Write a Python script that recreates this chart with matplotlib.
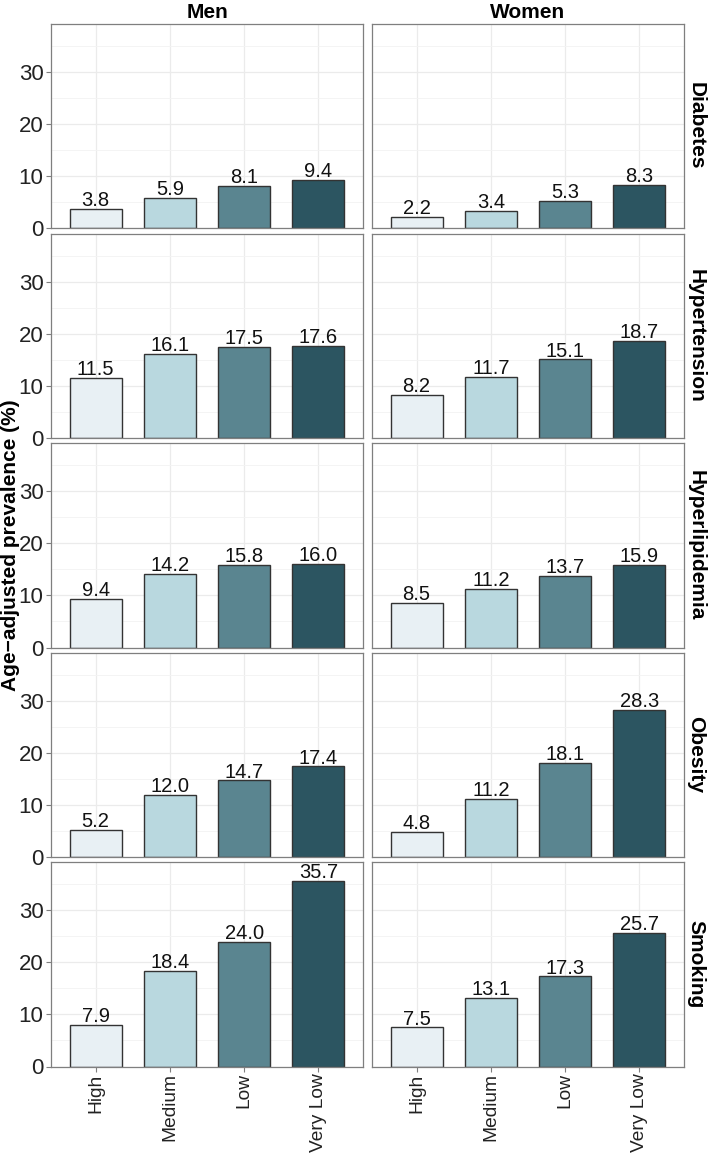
import numpy as np
import matplotlib
matplotlib.use("Agg")
from matplotlib import pyplot as plt

plt.rcParams['font.family'] = ['Liberation Sans', 'DejaVu Sans']

levels = ["High", "Medium", "Low", "Very Low"]
sexes = ["Men", "Women"]
outcomes = ["Diabetes", "Hypertension", "Hyperlipidemia", "Obesity", "Smoking"]

men_diabetes = [3.8, 5.9, 8.1, 9.4]
men_hypertension = [11.5, 16.1, 17.5, 17.6]
men_hyperlipidemia = [9.4, 14.2, 15.8, 16.0]
men_obesity = [5.2, 12.0, 14.7, 17.4]
men_smoking = [7.9, 18.4, 24.0, 35.7]

women_diabetes = [2.2, 3.4, 5.3, 8.3]
women_hypertension = [8.2, 11.7, 15.1, 18.7]
women_hyperlipidemia = [8.5, 11.2, 13.7, 15.9]
women_obesity = [4.8, 11.2, 18.1, 28.3]
women_smoking = [7.5, 13.1, 17.3, 25.7]

colors = ["#E8F0F4", "#B9D8DF", "#5A8590", "#2C5561"]

men = [men_diabetes, men_hypertension, men_hyperlipidemia, men_obesity, men_smoking]
women = [women_diabetes, women_hypertension, women_hyperlipidemia, women_obesity, women_smoking]

W, H = 709, 1153
fig = plt.figure(figsize=(W / 100, H / 100), dpi=100)

top = 24
ph = 204.5
gap_y = 5
lefts = [51, 372]
pw = 312

ymax = 35.7 * 1.1
x = np.arange(len(levels))

for r, name in enumerate(outcomes):
    for c, sex in enumerate(sexes):
        vals = (men if c == 0 else women)[r]
        y0 = top + r * (ph + gap_y)
        ax = fig.add_axes([lefts[c] / W, 1 - (y0 + ph) / H, pw / W, ph / H])
        ax.set_axisbelow(True)
        ax.bar(x, vals, width=0.7, color=colors, edgecolor="#333333", linewidth=1.0)
        for xi, v in zip(x, vals):
            ax.text(xi, v + 0.55, "%.1f" % v, ha="center", va="baseline", fontsize=14.5, color="#111111")
        ax.set_xlim(-0.6, 3.6)
        ax.set_ylim(0, ymax)
        ax.set_yticks([0, 10, 20, 30])
        ax.set_yticks([5, 15, 25, 35], minor=True)
        ax.set_xticks(x)
        ax.grid(which="major", color="#EBEBEB", linewidth=0.9)
        ax.grid(which="minor", axis="y", color="#F3F3F3", linewidth=0.6)
        for s in ax.spines.values():
            s.set_color("#7F7F7F")
            s.set_linewidth(0.9)
        ax.tick_params(which="major", length=3.5, color="#7F7F7F", labelsize=16, labelcolor="#222222", pad=2)
        ax.tick_params(which="minor", length=0)
        if c == 1:
            ax.set_yticklabels([])
            ax.tick_params(axis="y", length=0)
        if r == len(outcomes) - 1:
            ax.set_xticklabels(levels, rotation=90, fontsize=13.8)
            ax.tick_params(axis="x", pad=1.5)
        else:
            ax.set_xticklabels([])
            ax.tick_params(axis="x", length=0)
        if r == 0:
            ax.set_title(sex, fontsize=15, fontweight="bold", pad=4)
        if c == 1:
            ax.text(1.038, 0.5, name, transform=ax.transAxes, rotation=-90,
                    ha="center", va="center", fontsize=15, fontweight="bold")

fig.text(11 / W, 1 - 545 / H, "Age\u2212adjusted prevalence (%)", rotation=90,
         ha="center", va="center", fontsize=15, fontweight="bold")

fig.savefig("out.png", dpi=100, facecolor="white")
